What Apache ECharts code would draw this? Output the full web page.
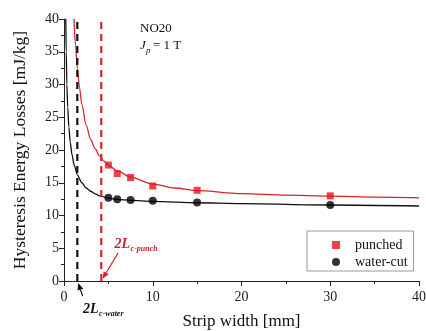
<!DOCTYPE html>
<html><head><meta charset="utf-8">
<script src="https://cdn.jsdelivr.net/npm/echarts@6/dist/echarts.min.js"></script>
<style>html,body{margin:0;padding:0;background:#fff}#c{width:426px;height:331px}</style>
</head><body><div id="c"></div>
<script>
// measured points
const punchedWidth = [5, 6, 7.5, 10, 15, 30];
const punchedLoss = [17.7, 16.4, 15.8, 14.5, 13.85, 13.0];
const waterWidth = [5, 6, 7.5, 10, 15, 30];
const waterLoss = [12.7, 12.5, 12.35, 12.25, 12.0, 11.6];
// fitted curves
const punchFitX = [1.12, 1.3, 1.5, 1.75, 2, 2.5, 3, 3.5, 4, 4.5, 5, 6, 7.5, 10, 12.5, 15, 20, 25, 30, 35, 40];
const punchFitY = [40, 36, 32.5, 29.5, 27, 23.8, 21.6, 20.2, 19.1, 18.3, 17.7, 16.8, 15.85, 14.8, 14.2, 13.8, 13.35, 13.1, 12.95, 12.8, 12.7];
const waterFitX = [0.2, 0.25, 0.32, 0.42, 0.55, 0.7, 0.9, 1.15, 1.5, 2, 2.5, 3, 3.5, 4, 5, 6, 7.5, 10, 15, 20, 30, 40];
const waterFitY = [40, 35, 30, 26.5, 23.5, 21.2, 19.3, 17.7, 16.2, 15.0, 14.2, 13.7, 13.3, 13.0, 12.65, 12.45, 12.3, 12.15, 11.95, 11.8, 11.6, 11.45];
// critical widths (dashed verticals)
const criticalWater = 1.5;
const criticalPunch = 4.2;
const yTop = 40;
// axis ticks
const xTicks = [0, 10, 20, 30, 40];
const yTicks = [0, 5, 10, 15, 20, 25, 30, 35, 40];

const RED = '#d8232a', RED_PT = '#e3141b', BLACK = '#111';
const FONT = '"Liberation Serif", "Times New Roman", serif';
const zip = (a, b) => a.map((v, i) => [v, b[i]]);

const chart = echarts.init(document.getElementById('c'), null, {renderer: 'canvas'});
const option = {
  animation: false,
  backgroundColor: '#fff',
  grid: {left: 64, right: 7, top: 19, bottom: 50, containLabel: false, outerBoundsMode: 'none'},
  xAxis: {
    type: 'value', min: xTicks[0], max: xTicks[xTicks.length - 1], interval: 10,
    name: 'Strip width [mm]', nameLocation: 'middle', nameGap: 32,
    nameTextStyle: {fontFamily: FONT, fontSize: 17, color: '#111'},
    axisLine: {lineStyle: {color: '#222', width: 1}},
    axisTick: {inside: false, length: 5, lineStyle: {color: '#222'}},
    minorTick: {show: true, splitNumber: 2, length: 3, lineStyle: {color: '#222'}},
    axisLabel: {fontFamily: FONT, fontSize: 14, color: '#222', margin: 9},
    splitLine: {show: false}
  },
  yAxis: {
    type: 'value', min: yTicks[0], max: yTicks[yTicks.length - 1], interval: 5,
    name: 'Hysteresis Energy Losses [mJ/kg]', nameLocation: 'middle', nameGap: 35,
    nameTextStyle: {fontFamily: FONT, fontSize: 17.5, color: '#111'},
    axisLine: {show: true, lineStyle: {color: '#222', width: 1}},
    axisTick: {show: true, inside: false, length: 5, lineStyle: {color: '#222'}},
    minorTick: {show: true, splitNumber: 2, length: 3, lineStyle: {color: '#222'}},
    axisLabel: {fontFamily: FONT, fontSize: 14, color: '#222', margin: 5},
    splitLine: {show: false}
  },
  legend: {
    data: ['punched', 'water-cut'], orient: 'vertical', left: 307, top: 231,
    itemWidth: 8, itemHeight: 8, itemGap: 1,
    padding: [6, 6, 1, 25], borderColor: '#999', borderWidth: 1,
    textStyle: {fontFamily: FONT, fontSize: 14, color: '#111', lineHeight: 16, padding: [0, 0, 0, 10]}
  },
  series: [
    {name: 'punchFit', type: 'line', data: zip(punchFitX, punchFitY), showSymbol: false,
     smooth: 0.3, smoothMonotone: 'x', lineStyle: {color: RED, width: 1.3}, z: 2, silent: true},
    {name: 'waterFit', type: 'line', data: zip(waterFitX, waterFitY), showSymbol: false,
     smooth: 0.3, smoothMonotone: 'x', lineStyle: {color: BLACK, width: 1.3}, z: 2, silent: true},
    {name: 'critWater', type: 'line', data: [[criticalWater, 0], [criticalWater, yTop]], showSymbol: false,
     lineStyle: {color: BLACK, width: 2.2, type: [7, 5]}, z: 3, silent: true},
    {name: 'critPunch', type: 'line', data: [[criticalPunch, 0], [criticalPunch, yTop]], showSymbol: false,
     lineStyle: {color: RED, width: 2.2, type: [7, 5]}, z: 3, silent: true},
    {name: 'punched', type: 'scatter', data: zip(punchedWidth, punchedLoss), symbol: 'rect', symbolSize: 7,
     itemStyle: {color: RED_PT}, z: 5},
    {name: 'water-cut', type: 'scatter', data: zip(waterWidth, waterLoss), symbol: 'circle', symbolSize: 8,
     itemStyle: {color: '#000'}, z: 5}
  ]
};
chart.setOption(option);

// annotations anchored to data coordinates
const annPunch = {from: [6.1, 4.3], to: [4.35, 0.35], text: [5.7, 5.6]};
const annWater = {from: [2.1, -2.3], to: [1.6, -0.3], text: [2.15, -4.3]};
const P = p => chart.convertToPixel({gridIndex: 0}, p);

function arrow(a, color) {
  const f = P(a.from), t = P(a.to);
  const dx = t[0] - f[0], dy = t[1] - f[1], L = Math.hypot(dx, dy);
  const ux = dx / L, uy = dy / L, hl = 7, hw = 3;
  const bx = t[0] - ux * hl, by = t[1] - uy * hl;
  return [
    {type: 'line', shape: {x1: f[0], y1: f[1], x2: bx, y2: by}, style: {stroke: color, lineWidth: 1.2}},
    {type: 'polygon', shape: {points: [[t[0], t[1]], [bx - uy * hw, by + ux * hw], [bx + uy * hw, by - ux * hw]]},
     style: {fill: color}}
  ];
}
function label(a, color, sub) {
  const p = P(a.text);
  return [
    {type: 'text', x: p[0], y: p[1], style: {text: '2L', fill: color, font: 'italic bold 14px ' + FONT,
      textVerticalAlign: 'middle', textAlign: 'left'}},
    {type: 'text', x: p[0] + 16, y: p[1] + 5, style: {text: sub, fill: color, font: 'italic bold 8px ' + FONT,
      textVerticalAlign: 'middle', textAlign: 'left'}}
  ];
}
const g = [].concat(
  arrow(annPunch, RED), label(annPunch, '#c4242b', 'c-punch'),
  arrow(annWater, BLACK), label(annWater, BLACK, 'c-water'),
  [
    {type: 'text', x: 140, y: 29, style: {text: 'NO20', fill: '#111', font: '13px ' + FONT, textVerticalAlign: 'middle'}},
    {type: 'text', x: 140, y: 46, style: {text: 'J', fill: '#111', font: 'italic 13px ' + FONT, textVerticalAlign: 'middle'}},
    {type: 'text', x: 146, y: 51, style: {text: 'p', fill: '#111', font: 'italic 9px ' + FONT, textVerticalAlign: 'middle'}},
    {type: 'text', x: 153, y: 46, style: {text: '= 1 T', fill: '#111', font: '13px ' + FONT, textVerticalAlign: 'middle'}}
  ]
);
chart.setOption({graphic: g});
</script>
</body></html>
